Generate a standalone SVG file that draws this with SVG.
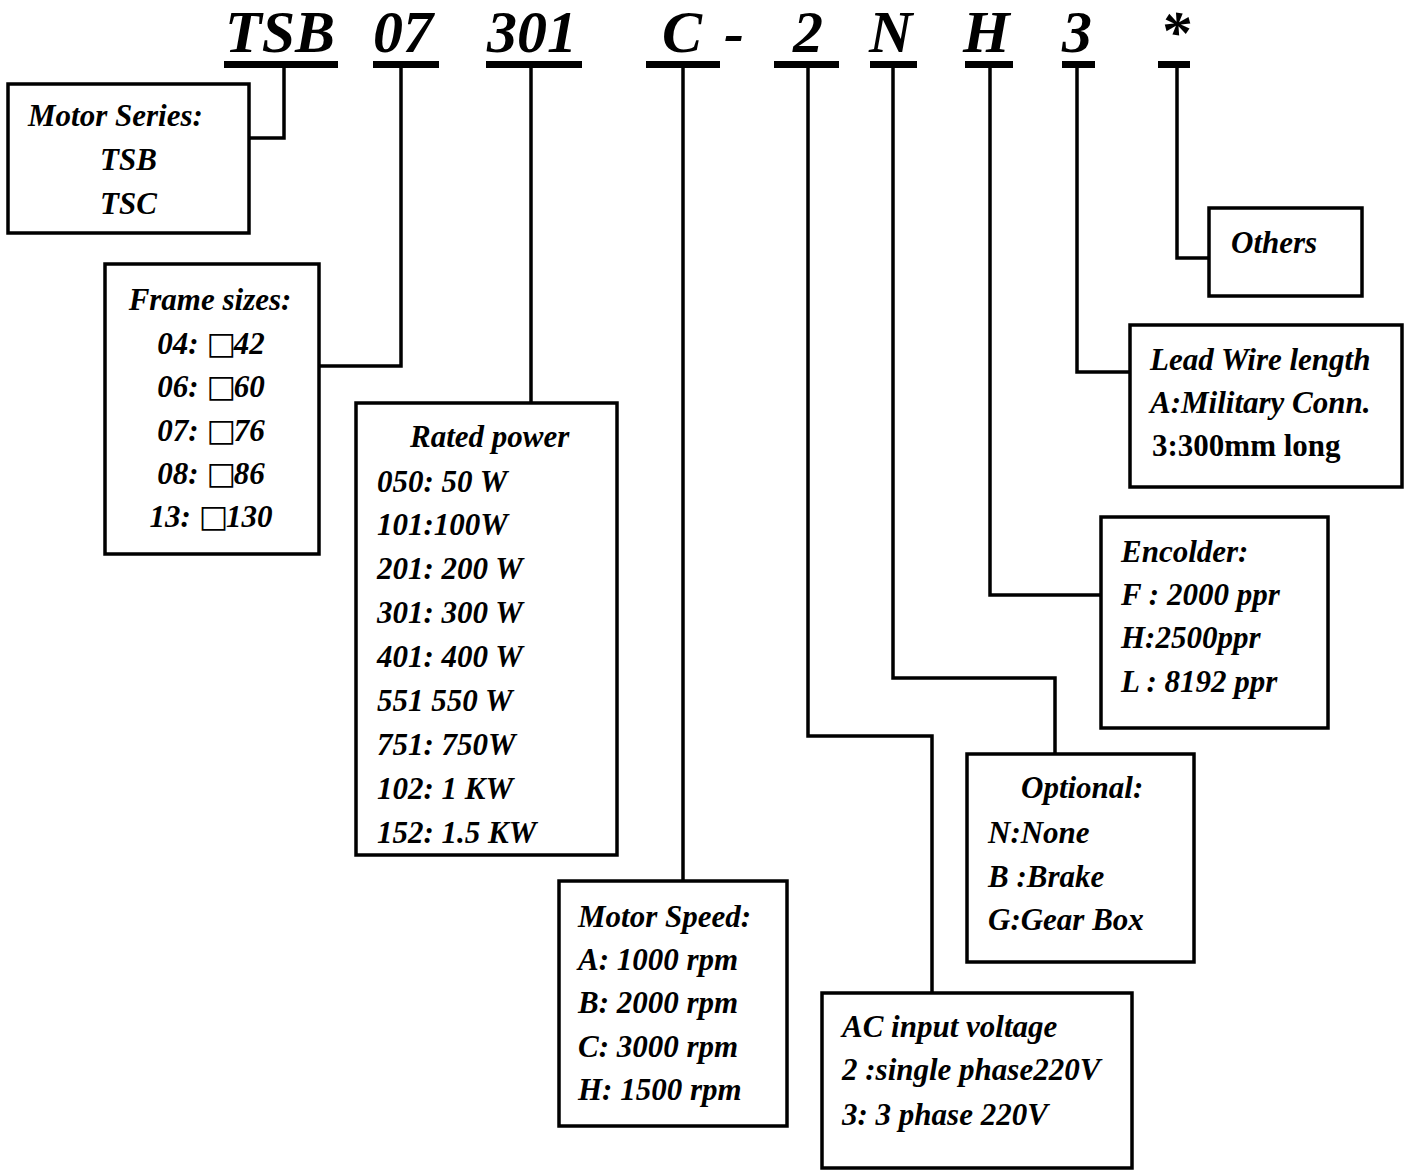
<svg xmlns="http://www.w3.org/2000/svg" width="1408" height="1171" viewBox="0 0 1408 1171">
<style>
.t{font-family:"Liberation Serif","DejaVu Serif",serif;font-weight:bold;font-style:italic;font-size:31px;fill:#000}
.u{font-style:normal}
.title{font-family:"Liberation Serif","DejaVu Serif",serif;font-weight:bold;font-style:italic;font-size:60px;fill:#000}
.box{fill:#fff;stroke:#000;stroke-width:3.5}
.ul{fill:#000}
.c{fill:none;stroke:#000;stroke-width:3.5}
.sq{font-family:"DejaVu Serif","DejaVu Sans",serif;font-weight:normal;font-style:italic}
</style>
<rect width="1408" height="1171" fill="#fff"/>
<g id="code">
<text class="title" x="225" y="52">TSB</text>
<text class="title" x="373" y="52">07</text>
<text class="title" x="487" y="52">301</text>
<text class="title" x="662" y="52">C</text>
<text class="title" x="724" y="52">-</text>
<text class="title" x="793" y="52">2</text>
<text class="title" x="869" y="52">N</text>
<text class="title" x="963" y="52">H</text>
<text class="title" x="1062" y="52">3</text>
<text class="title" x="1160" y="52">*</text>
<rect class="ul" x="224" y="61" width="114" height="7"/>
<rect class="ul" x="373" y="61" width="66" height="7"/>
<rect class="ul" x="486" y="61" width="96" height="7"/>
<rect class="ul" x="646" y="61" width="74" height="7"/>
<rect class="ul" x="774" y="61" width="65" height="7"/>
<rect class="ul" x="870" y="61" width="47" height="7"/>
<rect class="ul" x="965" y="61" width="48" height="7"/>
<rect class="ul" x="1062" y="61" width="33" height="7"/>
<rect class="ul" x="1158" y="61" width="32" height="7"/>
</g>
<g id="connectors">
<path class="c" d="M284,67 V138 H249"/>
<path class="c" d="M401,67 V366 H319"/>
<path class="c" d="M531,67 V403"/>
<path class="c" d="M683,67 V881"/>
<path class="c" d="M808,67 V736 H932 V993"/>
<path class="c" d="M893,67 V678 H1055 V754"/>
<path class="c" d="M990,67 V595 H1101"/>
<path class="c" d="M1077,67 V372 H1130"/>
<path class="c" d="M1177,67 V258 H1209"/>
</g>
<g id="motor-series">
<rect class="box" x="8" y="84" width="241" height="149"/>
<text class="t" x="28" y="126">Motor Series:</text>
<text class="t" x="100" y="170">TSB</text>
<text class="t" x="100" y="214">TSC</text>
</g>
<g id="frame-sizes">
<rect class="box" x="105" y="264" width="214" height="290"/>
<text class="t" x="210" y="310" text-anchor="middle">Frame sizes:</text>
<text class="t" x="211" y="354" text-anchor="middle">04: <tspan class="sq">□</tspan><tspan dx="-2">42</tspan></text>
<text class="t" x="211" y="397" text-anchor="middle">06: <tspan class="sq">□</tspan><tspan dx="-2">60</tspan></text>
<text class="t" x="211" y="441" text-anchor="middle">07: <tspan class="sq">□</tspan><tspan dx="-2">76</tspan></text>
<text class="t" x="211" y="484" text-anchor="middle">08: <tspan class="sq">□</tspan><tspan dx="-2">86</tspan></text>
<text class="t" x="211" y="527" text-anchor="middle">13: <tspan class="sq">□</tspan><tspan dx="-2">130</tspan></text>
</g>
<g id="rated-power">
<rect class="box" x="356" y="403" width="261" height="452"/>
<text class="t" x="410" y="447">Rated power</text>
<text class="t" x="377" y="492">050: 50 W</text>
<text class="t" x="377" y="535">101:100W</text>
<text class="t" x="377" y="579">201: 200 W</text>
<text class="t" x="377" y="623">301: 300 W</text>
<text class="t" x="377" y="667">401: 400 W</text>
<text class="t" x="377" y="711">551 550 W</text>
<text class="t" x="377" y="755">751: 750W</text>
<text class="t" x="377" y="799">102: 1 KW</text>
<text class="t" x="377" y="843">152: 1.5 KW</text>
</g>
<g id="motor-speed">
<rect class="box" x="559" y="881" width="228" height="245"/>
<text class="t" x="578" y="927">Motor Speed:</text>
<text class="t" x="578" y="970">A: 1000 rpm</text>
<text class="t" x="578" y="1013">B: 2000 rpm</text>
<text class="t" x="578" y="1057">C: 3000 rpm</text>
<text class="t" x="578" y="1100">H: 1500 rpm</text>
</g>
<g id="ac-input">
<rect class="box" x="822" y="993" width="310" height="175"/>
<text class="t" x="842" y="1037">AC input voltage</text>
<text class="t" x="842" y="1080">2 :single phase220V</text>
<text class="t" x="842" y="1125">3: 3 phase 220V</text>
</g>
<g id="optional">
<rect class="box" x="967" y="754" width="227" height="208"/>
<text class="t" x="1021" y="798">Optional:</text>
<text class="t" x="988" y="843">N:None</text>
<text class="t" x="988" y="887">B :Brake</text>
<text class="t" x="988" y="930">G:Gear Box</text>
</g>
<g id="encoder">
<rect class="box" x="1101" y="517" width="227" height="211"/>
<text class="t" x="1121" y="562">Encolder:</text>
<text class="t" x="1121" y="605">F : 2000 ppr</text>
<text class="t" x="1121" y="648">H:2500ppr</text>
<text class="t" x="1121" y="692">L : 8192 ppr</text>
</g>
<g id="lead-wire">
<rect class="box" x="1130" y="325" width="272" height="162"/>
<text class="t" x="1150" y="370">Lead Wire length</text>
<text class="t" x="1150" y="413">A:Military Conn.</text>
<text class="t u" x="1152" y="456">3:300mm long</text>
</g>
<g id="others">
<rect class="box" x="1209" y="208" width="153" height="88"/>
<text class="t" x="1231" y="253">Others</text>
</g>
</svg>
